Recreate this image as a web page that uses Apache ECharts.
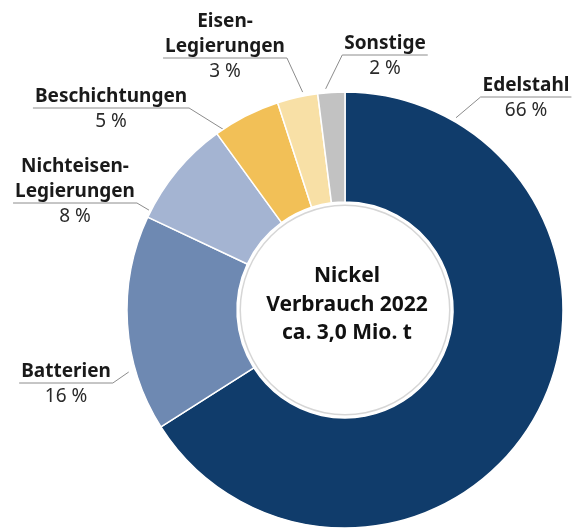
<!DOCTYPE html>
<html>
<head>
<meta charset="utf-8">
<script src="https://cdn.jsdelivr.net/npm/echarts@6/dist/echarts.min.js"></script>
<style>
  html, body { margin: 0; padding: 0; background: #ffffff; }
  #chart { width: 576px; height: 529px; }
</style>
</head>
<body>
<div id="chart"></div>
<script>
// ---- data ----
const categories = ['Edelstahl', 'Batterien', 'Nichteisen-\nLegierungen', 'Beschichtungen', 'Eisen-\nLegierungen', 'Sonstige'];
const shares = [66, 16, 8, 5, 3, 2];
const shareLabels = ['66 %', '16 %', '8 %', '5 %', '3 %', '2 %'];
const centerLines = ['Nickel', 'Verbrauch 2022', 'ca. 3,0 Mio. t'];

// ---- styling / layout ----
const colors = ['#103c6b', '#6e89b2', '#a4b4d2', '#f2c057', '#f8e0a6', '#c2c2c2'];
const CX = 345, CY = 310, R_OUT = 218, R_IN = 108;
// label placement: centre x, top y, leader anchor angle (deg clockwise from top), anchor radius
const labelPlace = [
  { cx: 526, top: 73,  ang: 30,  rr: 222 },
  { cx: 66,  top: 359, ang: 254, rr: 225 },
  { cx: 75,  top: 154, ang: 297, rr: 220 },
  { cx: 111, top: 84,  ang: 326, rr: 218 },
  { cx: 225, top: 9,   ang: 349, rr: 222 },
  { cx: 385, top: 31,  ang: 355, rr: 222 }
];
const LH = 25;

const chart = echarts.init(document.getElementById('chart'), null, { renderer: 'canvas' });

const data = categories.map((c, i) => ({
  name: c,
  value: shares[i],
  itemStyle: { color: colors[i] }
}));

chart.setOption({
  backgroundColor: '#ffffff',
  animation: false,
  series: [
    {
      type: 'pie',
      center: [CX, CY],
      radius: [R_IN, R_OUT],
      startAngle: 90,
      clockwise: true,
      avoidLabelOverlap: false,
      data: data,
      itemStyle: { borderColor: '#ffffff', borderWidth: 1.5 },
      label: {
        show: true,
        position: 'outside',
        formatter: function (p) {
          const nameLines = p.name.split('\n').map(s => '{n|' + s + '}');
          return nameLines.join('\n') + '\n{p|' + shareLabels[p.dataIndex] + '}';
        },
        rich: {
          n: { fontFamily: '"Noto Sans"', fontWeight: 'bold', fontSize: 19, lineHeight: LH, color: '#1a1a1a' },
          p: { fontFamily: '"Noto Sans"', fontSize: 19, lineHeight: LH, color: '#2a2a2a' }
        }
      },
      labelLine: { show: true, length: 10, length2: 10, lineStyle: { color: '#8c8c8c', width: 1 } },
      labelLayout: function (params) {
        const i = params.dataIndex;
        const L = labelPlace[i];
        const nLines = categories[i].split('\n').length;
        const w = params.labelRect.width;
        const uy = L.top + LH * nLines - 1;
        const half = w / 2 + 2;
        const left = L.cx - half, right = L.cx + half;
        const a = L.ang * Math.PI / 180;
        const sx = CX + L.rr * Math.sin(a);
        const sy = CY - L.rr * Math.cos(a);
        const near = sx > L.cx ? right : left;
        const far = sx > L.cx ? left : right;
        return {
          x: L.cx,
          y: L.top,
          align: 'center',
          verticalAlign: 'top',
          labelLinePoints: [[sx, sy], [near, uy], [far, uy]]
        };
      }
    },
    {
      type: 'pie',
      center: [CX, CY],
      radius: [R_IN - 4, R_IN - 2.5],
      silent: true,
      label: { show: false },
      labelLine: { show: false },
      data: [{ value: 1, itemStyle: { color: '#d6d6d6' } }]
    }
  ],
  graphic: [
    {
      type: 'text',
      x: CX + 2,
      y: CY - 5,
      style: {
        text: centerLines.join('\n'),
        align: 'center',
        verticalAlign: 'middle',
        font: 'bold 21px "Noto Sans"',
        lineHeight: 28.5,
        fill: '#111111'
      }
    }
  ]
});
</script>
</body>
</html>
